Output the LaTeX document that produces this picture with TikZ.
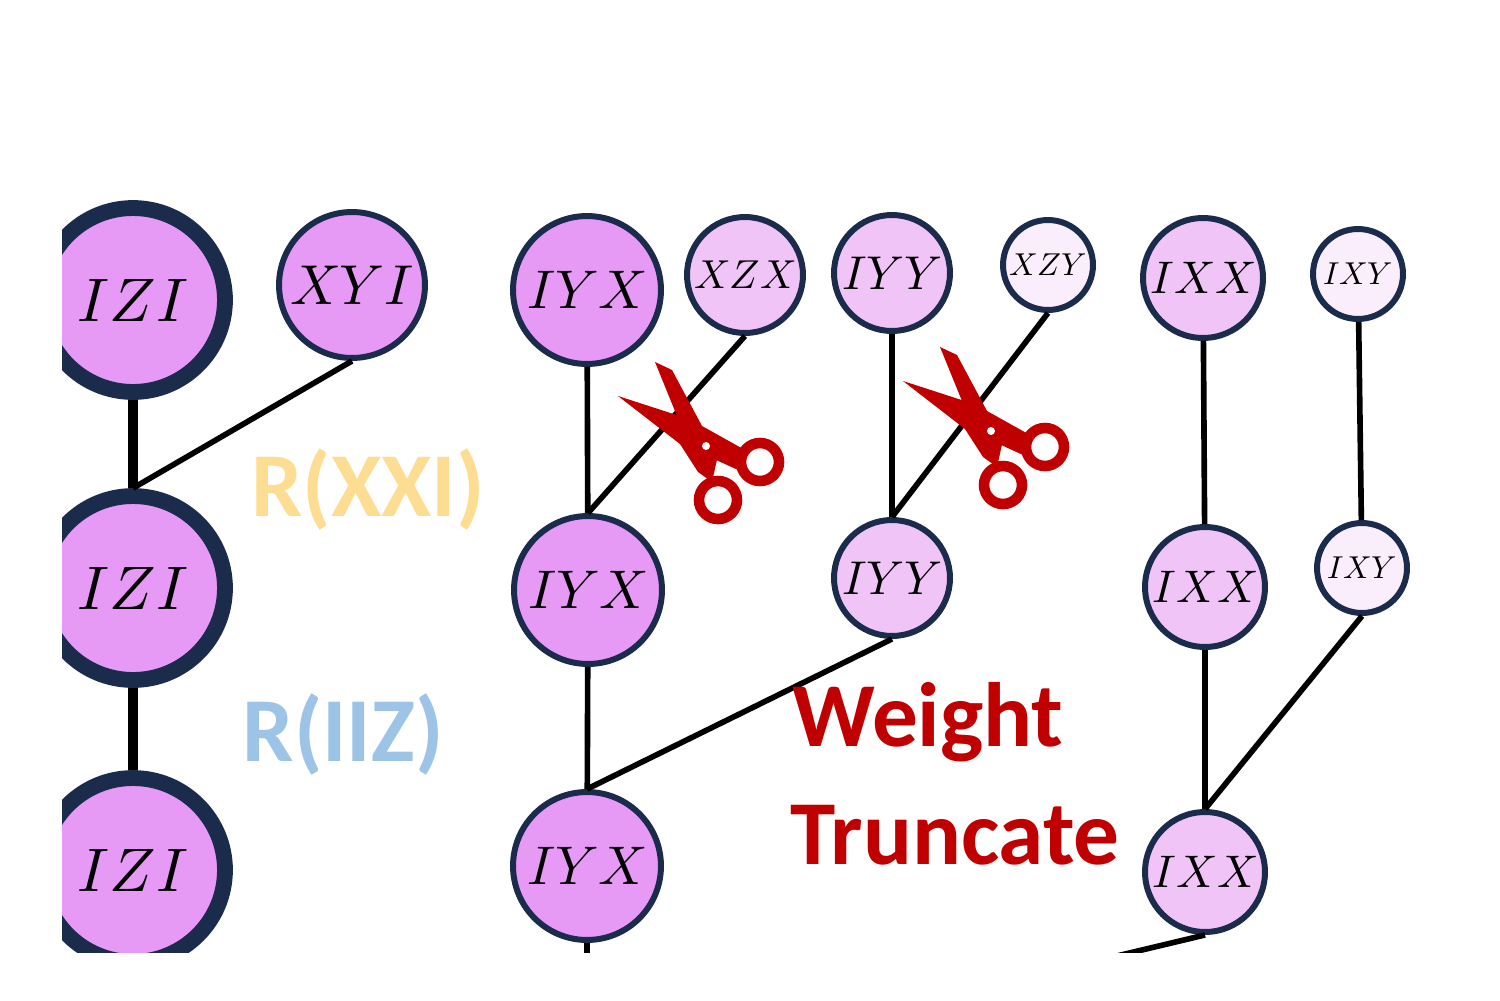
\documentclass[tikz,border=0pt]{standalone}
\usepackage{fontspec}
\usepackage{unicode-math}
\setmathfont{Latin Modern Math}
\newfontfamily\lblfont{Carlito}
\begin{document}
\begin{tikzpicture}[x=0.02cm,y=-0.02cm,
  nd/.style={circle,draw=navy,line width=3.4pt,inner sep=0pt,minimum size=#1*0.04cm},
  big/.style={nd=#1,line width=9pt},
  thin/.style={line width=3.2pt,black},
  thick/.style={line width=5.9pt,black},
  lbl/.style={font=\lblfont\bfseries\fontsize{52}{56}\selectfont},
  sc/.style={fill=scred,draw=none}]
\definecolor{navy}{HTML}{1A2B4C}
\definecolor{pA}{HTML}{E699F5}
\definecolor{pB}{HTML}{F0C4F7}
\definecolor{pC}{HTML}{FBEEFC}
\definecolor{scred}{HTML}{C00000}
\useasboundingbox (0,0) rectangle (1500,1000);
\begin{scope}
\clip (62,0) rectangle (1500,952);
% nodes
\node[big=92,fill=pA,font=\fontsize{35}{38}\selectfont] (z1) at (133,300) {$IZI$};
\node[big=92,fill=pA,font=\fontsize{35}{38}\selectfont] (z2) at (133,588) {$IZI$};
\node[big=92,fill=pA,font=\fontsize{35}{38}\selectfont] (z3) at (133,870) {$IZI$};
\node[nd=73,fill=pA,font=\fontsize{32}{36}\selectfont] (xyi) at (352,285) {$XYI$};
\node[nd=74,fill=pA,font=\fontsize{31}{34}\selectfont] (a1) at (587,290) {$IYX$};
\node[nd=74,fill=pA,font=\fontsize{31}{34}\selectfont] (a2) at (588,590) {$IYX$};
\node[nd=74,fill=pA,font=\fontsize{31}{34}\selectfont] (a3) at (587,866) {$IYX$};
\node[nd=58,fill=pB,font=\fontsize{23}{26}\selectfont] (xzx) at (745,275) {$XZX$};
\node[nd=58,fill=pB,font=\fontsize{27}{30}\selectfont] (b1) at (892,273) {$IYY$};
\node[nd=58,fill=pB,font=\fontsize{27}{30}\selectfont] (b2) at (892,578) {$IYY$};
\node[nd=45,fill=pC,font=\fontsize{18}{20}\selectfont] (xzy) at (1048,265) {$XZY$};
\node[nd=60,fill=pB,font=\fontsize{26}{30}\selectfont] (c1) at (1203,278) {$IXX$};
\node[nd=60,fill=pB,font=\fontsize{26}{30}\selectfont] (c2) at (1205,587) {$IXX$};
\node[nd=60,fill=pB,font=\fontsize{26}{30}\selectfont] (c3) at (1205,872) {$IXX$};
\node[nd=45,fill=pC,font=\fontsize{18}{20}\selectfont] (d1) at (1358,274) {$IXY$};
\node[nd=45,fill=pC,font=\fontsize{18}{20}\selectfont] (d2) at (1362,568) {$IXY$};
\coordinate (e1) at (587,960);
\coordinate (e2) at (1100,960);
% edges
\draw[thick] (z1) -- (z2);
\draw[thick] (z2) -- (z3);
\draw[thin] (xyi.south) -- (z2.north);
\draw[thin] (a1) -- (a2);
\draw[thin] (xzx.south) -- (a2.north);
\draw[thin] (a2) -- (a3);
\draw[thin] (b1) -- (b2);
\draw[thin] (xzy.south) -- (b2.north);
\draw[thin] (b2.south) -- (a3.north);
\draw[thin] (c1) -- (c2);
\draw[thin] (c2) -- (c3);
\draw[thin] (d1) -- (d2);
\draw[thin] (d2.south) -- (c3.north);
\draw[thin] (a3) -- (e1);
\draw[thin] (c3.south) -- (e2);
\end{scope}
% labels
\node[lbl,text=yellow!40!orange!40] (l1) at (368,490) {R(XXI)};
\node[lbl,text={rgb,255:red,157;green,195;blue,230}] (l2) at (343,735) {R(IIZ)};
\node[lbl,text=scred] (l3) at (928,722) {Weight};
\node[lbl,text=scred] (l4) at (955,835) {Truncate};
% scissors
\foreach \dx/\dy in {0/0,285/-15}{
\begin{scope}[shift={(\dx,\dy)}]
\fill[sc] (618,396) -- (692,420) -- (718,455) -- (712,482) -- (698,472) -- (680,444) -- cycle;
\fill[sc] (655,362) -- (672,370) -- (702,426) -- (745,450) -- (738,470) -- (690,448) -- cycle;
\draw[scred,line width=6pt] (718,500) circle (19);
\draw[scred,line width=6pt] (760,462) circle (19);
\fill[white] (706,446) circle (4);
\end{scope}}
\end{tikzpicture}
\end{document}
